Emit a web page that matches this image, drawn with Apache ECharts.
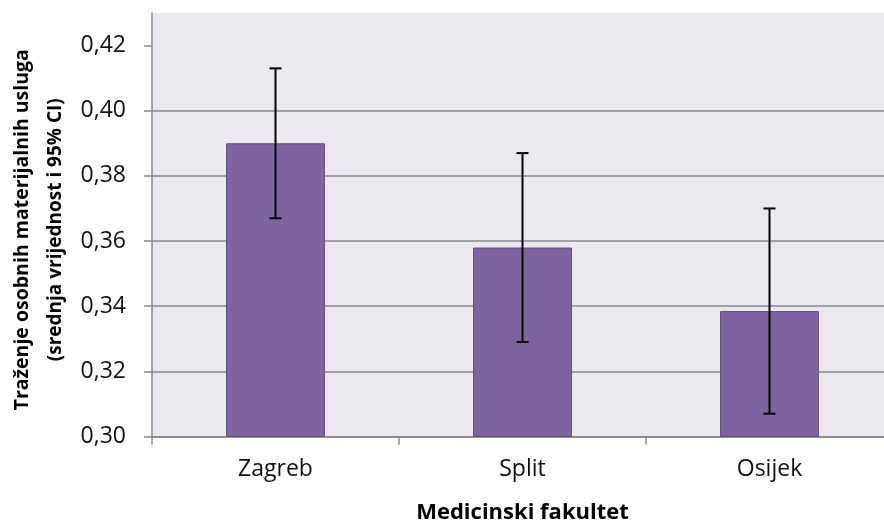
<!DOCTYPE html>
<html>
<head>
<meta charset="utf-8">
<script src="https://cdn.jsdelivr.net/npm/echarts@6/dist/echarts.min.js"></script>
<style>
  html, body { margin: 0; padding: 0; background: #fff; }
  #chart { width: 884px; height: 521px; }
</style>
</head>
<body>
<div id="chart"></div>
<script>
// data
var categories = ["Zagreb", "Split", "Osijek"];
var means = [0.390, 0.358, 0.3385];
var lower = [0.367, 0.329, 0.307];
var upper = [0.413, 0.387, 0.370];
var yTicks = [0.30, 0.32, 0.34, 0.36, 0.38, 0.40, 0.42];

var chartDom = document.getElementById("chart");
var myChart = echarts.init(chartDom);

var errData = categories.map(function (c, i) {
  return [i, lower[i], upper[i]];
});

var option = {
  animation: false,
  textStyle: { fontFamily: "Open Sans" },
  grid: {
    show: true,
    left: 152,
    top: 13,
    width: 741,
    bottom: 84.5,
    outerBoundsMode: "none",
    backgroundColor: "#EBE9EF",
    borderWidth: 0,
  },
  xAxis: {
    type: "category",
    data: categories,
    name: "Medicinski fakultet",
    nameLocation: "middle",
    nameGap: 65,
    nameTextStyle: { fontSize: 22, fontWeight: "bold", color: "#000" },
    axisLine: { lineStyle: { color: "#898989", width: 1.5 } },
    axisTick: { show: true, length: 8, lineStyle: { color: "#898989", width: 1.5 } },
    axisLabel: { fontSize: 23, color: "#111", margin: 21 },
  },
  yAxis: {
    type: "value",
    min: 0.30,
    max: 0.43,
    interval: 0.02,
    name: "{a|Traženje osobnih materijalnih usluga}\n{b|(srednja vrijednost i 95% CI)}",
    nameLocation: "middle",
    nameGap: 80,
    nameTextStyle: {
      fontSize: 19.5,
      fontWeight: "bold",
      color: "#000",
      padding: [0, 10, 0, 0],
      rich: {
        a: { fontSize: 19.5, fontWeight: "bold", color: "#000", lineHeight: 36, fontFamily: "Open Sans" },
        b: { fontSize: 19, fontWeight: "bold", color: "#000", lineHeight: 32, fontFamily: "Open Sans" },
      },
    },
    axisLine: { show: true, lineStyle: { color: "#898989", width: 1.5 } },
    axisTick: {
      show: true,
      length: 8,
      customValues: yTicks,
      lineStyle: { color: "#898989", width: 1.5 },
    },
    axisLabel: {
      fontSize: 23,
      color: "#111",
      margin: 26,
      customValues: yTicks,
      formatter: function (v) {
        return v.toFixed(2).replace(".", ",");
      },
    },
    splitLine: {
      show: true,
      showMaxLine: false,
      lineStyle: { color: "#898989", width: 1.5 },
    },
  },
  series: [
    {
      name: "mean",
      type: "bar",
      data: means,
      barWidth: "40%",
      itemStyle: {
        color: "#8064A2",
        borderColor: "#5E4A7A",
        borderWidth: 1,
      },
    },
    {
      name: "CI",
      type: "custom",
      data: errData,
      z: 10,
      renderItem: function (params, api) {
        var x = api.value(0);
        var lo = api.coord([x, api.value(1)]);
        var hi = api.coord([x, api.value(2)]);
        var half = 6;
        var st = { stroke: "#000", lineWidth: 2 };
        return {
          type: "group",
          children: [
            { type: "line", shape: { x1: hi[0], y1: hi[1], x2: lo[0], y2: lo[1] }, style: st },
            { type: "line", shape: { x1: hi[0] - half, y1: hi[1], x2: hi[0] + half, y2: hi[1] }, style: st },
            { type: "line", shape: { x1: lo[0] - half, y1: lo[1], x2: lo[0] + half, y2: lo[1] }, style: st },
          ],
        };
      },
    },
  ],
};
myChart.setOption(option);
</script>
</body>
</html>
